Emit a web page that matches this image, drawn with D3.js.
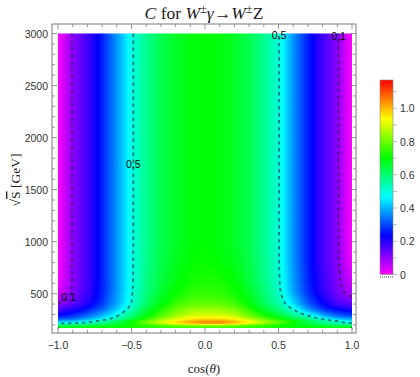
<!DOCTYPE html>
<html><head><meta charset="utf-8">
<script src="https://cdn.jsdelivr.net/npm/d3@7"></script>
<style>body{margin:0;background:#fff} svg{display:block}</style>
</head><body>
<svg id="chart" width="420" height="377"></svg>
<script>
// ---------- data ----------
const cosValues = [-1,-0.95,-0.9,-0.85,-0.8,-0.7,-0.6,-0.5,-0.4,-0.3,-0.2,-0.1,0,0.1,0.2,0.3,0.4,0.5,0.6,0.7,0.8,0.85,0.9,0.95,1];
const sqrtSValues = [170,190,210,230,260,300,350,400,500,600,800,1000,1500,2000,3000];
const C_170  = [0.69,0.69,0.69,0.695,0.70,0.70,0.71,0.72,0.73,0.74,0.75,0.76,0.76,0.76,0.75,0.74,0.73,0.72,0.71,0.70,0.70,0.695,0.69,0.69,0.69];
const C_190  = [0.62,0.62,0.625,0.63,0.64,0.66,0.68,0.71,0.74,0.77,0.80,0.82,0.83,0.83,0.81,0.78,0.75,0.72,0.69,0.67,0.65,0.64,0.63,0.62,0.62];
const C_210  = [0.49,0.495,0.505,0.515,0.53,0.58,0.64,0.71,0.79,0.87,0.95,1.00,1.03,1.03,0.99,0.92,0.84,0.77,0.70,0.64,0.59,0.56,0.53,0.51,0.50];
const C_230  = [0.40,0.41,0.42,0.44,0.47,0.53,0.61,0.71,0.80,0.89,0.96,1.01,1.04,1.04,1.00,0.94,0.86,0.79,0.71,0.64,0.57,0.54,0.51,0.48,0.46];
const C_260  = [0.29,0.30,0.315,0.34,0.37,0.44,0.525,0.62,0.72,0.81,0.88,0.93,0.95,0.945,0.92,0.85,0.77,0.70,0.63,0.56,0.46,0.42,0.39,0.37,0.36];
const C_300  = [0.22,0.235,0.255,0.28,0.31,0.38,0.47,0.575,0.68,0.76,0.83,0.88,0.89,0.885,0.86,0.79,0.71,0.64,0.56,0.47,0.37,0.33,0.30,0.285,0.27];
const C_350  = [0.16,0.175,0.195,0.22,0.25,0.32,0.42,0.53,0.64,0.72,0.79,0.83,0.84,0.835,0.81,0.74,0.66,0.59,0.49,0.37,0.28,0.25,0.225,0.21,0.20];
const C_400  = [0.10,0.12,0.145,0.175,0.205,0.285,0.39,0.50,0.61,0.69,0.75,0.785,0.79,0.785,0.76,0.70,0.62,0.55,0.44,0.32,0.235,0.20,0.17,0.155,0.14];
const C_500  = [0.04,0.07,0.11,0.145,0.18,0.265,0.375,0.495,0.59,0.66,0.71,0.74,0.75,0.745,0.72,0.67,0.60,0.52,0.39,0.28,0.195,0.16,0.13,0.10,0.08];
const C_600  = [0.01,0.055,0.105,0.14,0.175,0.26,0.37,0.49,0.58,0.645,0.69,0.72,0.73,0.725,0.70,0.65,0.585,0.51,0.38,0.27,0.185,0.15,0.12,0.08,0.05];
const C_800  = [0.00,0.05,0.105,0.14,0.175,0.26,0.37,0.49,0.575,0.635,0.675,0.70,0.71,0.70,0.68,0.635,0.575,0.505,0.37,0.26,0.175,0.14,0.11,0.06,0.01];
const C_1000 = [0.00,0.05,0.105,0.14,0.175,0.26,0.37,0.49,0.57,0.63,0.67,0.69,0.70,0.69,0.67,0.63,0.57,0.505,0.37,0.26,0.175,0.14,0.11,0.05,0.00];
const C_1500 = [0.00,0.05,0.105,0.14,0.175,0.26,0.37,0.49,0.57,0.63,0.67,0.69,0.70,0.69,0.67,0.63,0.57,0.505,0.37,0.26,0.175,0.14,0.11,0.05,0.00];
const C_2000 = [0.00,0.05,0.105,0.14,0.175,0.26,0.37,0.49,0.57,0.63,0.67,0.69,0.70,0.69,0.67,0.63,0.57,0.505,0.37,0.26,0.175,0.14,0.11,0.05,0.00];
const C_3000 = [0.00,0.05,0.105,0.14,0.175,0.26,0.37,0.49,0.57,0.63,0.67,0.69,0.70,0.69,0.67,0.63,0.57,0.505,0.37,0.26,0.175,0.14,0.11,0.05,0.00];
const valueRows = [C_170,C_190,C_210,C_230,C_260,C_300,C_350,C_400,C_500,C_600,C_800,C_1000,C_1500,C_2000,C_3000];

const colorMin = 0, colorMax = 1.17;
const contourLevels = [0.1, 0.5];
const labelLevel = [0.5, 0.5, 0.1, 0.1];
const labelSqrtS = [1750, 2985, 472, 2975];
const labelSide  = [-1, 1, -1, 1];
const xTicksMajor = [-1,-0.5,0,0.5,1];
const xTickLabels = ["\u22121.0","\u22120.5","0.0","0.5","1.0"];
const yTicksMajor = [500,1000,1500,2000,2500,3000];
const barTicksMajor = [0,0.2,0.4,0.6,0.8,1.0];
const barTickLabels = ["0","0.2","0.4","0.6","0.8","1.0"];

// ---------- layout ----------
const svg = d3.select("#chart");
const frame = {l:52, r:356, t:24, b:333};
const x = d3.scaleLinear([-1,1],[58,352]);
const y = d3.scaleLinear([170,3000],[328,33.5]);
const hueColor = v => {
  const t = Math.max(0, Math.min(1, (v - colorMin)/(colorMax - colorMin)));
  return d3.hsl(300*(1 - t), 1, 0.5).rgb();
};

function field(c, s){
  const n = cosValues.length, m = sqrtSValues.length;
  let i = Math.max(0, Math.min(n-2, d3.bisectRight(cosValues, c) - 1));
  let j = Math.max(0, Math.min(m-2, d3.bisectRight(sqrtSValues, s) - 1));
  let tx = (c - cosValues[i])/(cosValues[i+1]-cosValues[i]);
  let ty = (s - sqrtSValues[j])/(sqrtSValues[j+1]-sqrtSValues[j]);
  tx = Math.max(0, Math.min(1, tx)); ty = Math.max(0, Math.min(1, ty));
  const a = valueRows[j][i], b = valueRows[j][i+1], cc = valueRows[j+1][i], d = valueRows[j+1][i+1];
  return (1-tx)*(1-ty)*a + tx*(1-ty)*b + (1-tx)*ty*cc + tx*ty*d;
}

// ---------- density image ----------
const x0 = x.range()[0], y0 = y.range()[1];
const W = Math.round(x.range()[1]-x.range()[0]);
const H = Math.round(y.range()[0]-y.range()[1]);
const canvas = document.createElement("canvas");
canvas.width = W; canvas.height = H;
const ctx = canvas.getContext("2d");
const img = ctx.createImageData(W, H);
const grid = new Float64Array(W*H);
for (let j=0;j<H;j++){
  const s = y.invert(y0 + j + 0.5);
  for (let i=0;i<W;i++){
    const c = x.invert(x0 + i + 0.5);
    const v = field(c, s);
    grid[j*W+i] = v;
    const col = hueColor(v);
    const k = 4*(j*W+i);
    img.data[k]=col.r; img.data[k+1]=col.g; img.data[k+2]=col.b; img.data[k+3]=255;
  }
}
ctx.putImageData(img,0,0);
svg.append("image").attr("x", x0).attr("y", y0).attr("width", x.range()[1]-x0).attr("height", y.range()[0]-y0)
  .attr("preserveAspectRatio","none").attr("href", canvas.toDataURL());

// ---------- contours ----------
const contours = d3.contours().size([W,H]).thresholds(contourLevels)(Array.from(grid));
const sx = (x.range()[1]-x0)/W, sy = (y.range()[0]-y0)/H;
const eps = 1e-6;
function onBorder(p,q){
  return (p[0]<=eps && q[0]<=eps) || (p[0]>=W-eps && q[0]>=W-eps) ||
         (p[1]<=eps && q[1]<=eps) || (p[1]>=H-eps && q[1]>=H-eps);
}
const lineGen = d3.line().x(p=>x0+p[0]*sx).y(p=>y0+p[1]*sy);
contours.forEach(ct=>{
  ct.coordinates.forEach(poly=>poly.forEach(ring=>{
    const segs = [];
    let cur = [];
    for (let k=0;k<ring.length-1;k++){
      const p = ring[k], q = ring[k+1];
      if (onBorder(p,q)) { if (cur.length>1) segs.push(cur); cur=[]; }
      else { if (!cur.length) cur.push(p); cur.push(q); }
    }
    if (cur.length>1) segs.push(cur);
    if (segs.length>1){
      const first = segs[0], last = segs[segs.length-1];
      const lp = last[last.length-1], fp = first[0];
      if (lp[0]===fp[0] && lp[1]===fp[1]) { segs[0] = last.concat(first.slice(1)); segs.pop(); }
    }
    segs.forEach(sg=>{
      svg.append("path").attr("d", lineGen(sg)).attr("fill","none")
        .attr("stroke","#1c2a2a").attr("stroke-opacity",0.6).attr("stroke-width",1.8)
        .attr("stroke-dasharray","3.5,3.5");
    });
  }));
});

// contour labels
function crossing(level, s, side){
  for (let c=0; Math.abs(c)<=1; c+=side*0.001){
    if (field(c,s) < level) return c;
  }
  return side;
}
labelLevel.forEach((lv,k)=>{
  const c = crossing(lv, labelSqrtS[k], labelSide[k]);
  svg.append("text").attr("x", x(c)).attr("y", y(labelSqrtS[k]))
    .attr("text-anchor","middle").attr("dominant-baseline","central")
    .attr("font-family","Liberation Sans, Arial, sans-serif").attr("font-size",10.5)
    .attr("fill","#000").text(String(lv));
});

// ---------- frame & ticks ----------
const frameColor = "#7a7a7a";
svg.append("rect").attr("x",frame.l).attr("y",frame.t).attr("width",frame.r-frame.l).attr("height",frame.b-frame.t)
  .attr("fill","none").attr("stroke",frameColor).attr("stroke-width",1);
const tickG = svg.append("g").attr("stroke",frameColor).attr("stroke-width",0.8);
const xMinor = d3.range(-10,11).map(d=>d/10);
xMinor.forEach(v=>{
  const major = xTicksMajor.some(m=>Math.abs(m-v)<1e-9);
  const len = major ? 5 : 3;
  tickG.append("line").attr("x1",x(v)).attr("x2",x(v)).attr("y1",frame.b).attr("y2",frame.b-len);
  tickG.append("line").attr("x1",x(v)).attr("x2",x(v)).attr("y1",frame.t).attr("y2",frame.t+len);
});
const yMinor = d3.range(200,3001,100);
yMinor.forEach(v=>{
  const major = yTicksMajor.includes(v);
  const len = major ? 5 : 3;
  tickG.append("line").attr("y1",y(v)).attr("y2",y(v)).attr("x1",frame.l).attr("x2",frame.l+len);
  tickG.append("line").attr("y1",y(v)).attr("y2",y(v)).attr("x1",frame.r).attr("x2",frame.r-len);
});
const tickFont = "Liberation Sans, Arial, sans-serif";
xTicksMajor.forEach((v,k)=>{
  svg.append("text").attr("x",x(v)).attr("y",345).attr("text-anchor","middle").attr("dominant-baseline","central")
    .attr("font-family",tickFont).attr("font-size",10.5).attr("fill","#333").text(xTickLabels[k]);
});
yTicksMajor.forEach(v=>{
  svg.append("text").attr("x",48).attr("y",y(v)).attr("text-anchor","end").attr("dominant-baseline","central")
    .attr("font-family",tickFont).attr("font-size",10.5).attr("fill","#333").text(String(v));
});

// ---------- titles ----------
const serif = "Liberation Serif, Times New Roman, serif";
const title = svg.append("text").attr("x",(frame.l+frame.r)/2).attr("y",19).attr("text-anchor","middle")
  .attr("font-family",serif).attr("font-size",17.5).attr("fill","#222");
title.append("tspan").attr("font-style","italic").text("C");
title.append("tspan").text(" for ");
title.append("tspan").attr("font-style","italic").text("W");
title.append("tspan").attr("font-size",12.5).attr("dy",-6).text("\u00b1");
title.append("tspan").attr("font-style","italic").attr("dy",6).text("\u03b3");
title.append("tspan").text("\u2192");
title.append("tspan").attr("font-style","italic").text("W");
title.append("tspan").attr("font-size",12.5).attr("dy",-6).text("\u00b1");
title.append("tspan").attr("dy",6).text("Z");

const xt = svg.append("text").attr("x",(frame.l+frame.r)/2).attr("y",368).attr("text-anchor","middle")
  .attr("dominant-baseline","central").attr("font-family",serif).attr("font-size",13).attr("fill","#222");
xt.append("tspan").text("cos(");
xt.append("tspan").attr("font-style","italic").text("\u03b8");
xt.append("tspan").text(")");

const yt = svg.append("text").attr("transform","translate(15,180) rotate(-90)").attr("text-anchor","middle")
  .attr("dominant-baseline","central").attr("font-family",serif).attr("font-size",13.5).attr("fill","#222");
yt.append("tspan").text("\u221a");
yt.append("tspan").style("text-decoration","overline").text("S");
yt.append("tspan").text("  [GeV]");

// ---------- colour bar ----------
const bar = d3.scaleLinear([colorMin,colorMax],[274.5,80]);
const defs = svg.append("defs");
const grad = defs.append("linearGradient").attr("id","cbar").attr("x1",0).attr("x2",0).attr("y1",1).attr("y2",0);
d3.range(0,1.0001,0.02).forEach(t=>{
  grad.append("stop").attr("offset",t).attr("stop-color",hueColor(colorMin + t*(colorMax-colorMin)).formatHex());
});
svg.append("rect").attr("x",380).attr("y",bar(colorMax)).attr("width",13).attr("height",bar(colorMin)-bar(colorMax))
  .attr("fill","url(#cbar)").attr("stroke","#888").attr("stroke-width",0.6);
d3.range(0,1.15,0.1).forEach(v=>{
  svg.append("line").attr("x1",393).attr("x2",397).attr("y1",bar(v)).attr("y2",bar(v))
    .attr("stroke","#aaa").attr("stroke-width",0.8);
});
svg.append("line").attr("x1",380).attr("x2",393).attr("y1",277).attr("y2",277)
  .attr("stroke","#444").attr("stroke-width",1.2).attr("stroke-dasharray","1,1");
barTicksMajor.forEach((v,k)=>{
  svg.append("text").attr("x",400).attr("y",bar(v)).attr("dominant-baseline","central")
    .attr("font-family",tickFont).attr("font-size",10.5).attr("fill","#333").text(barTickLabels[k]);
});
</script>
</body></html>
